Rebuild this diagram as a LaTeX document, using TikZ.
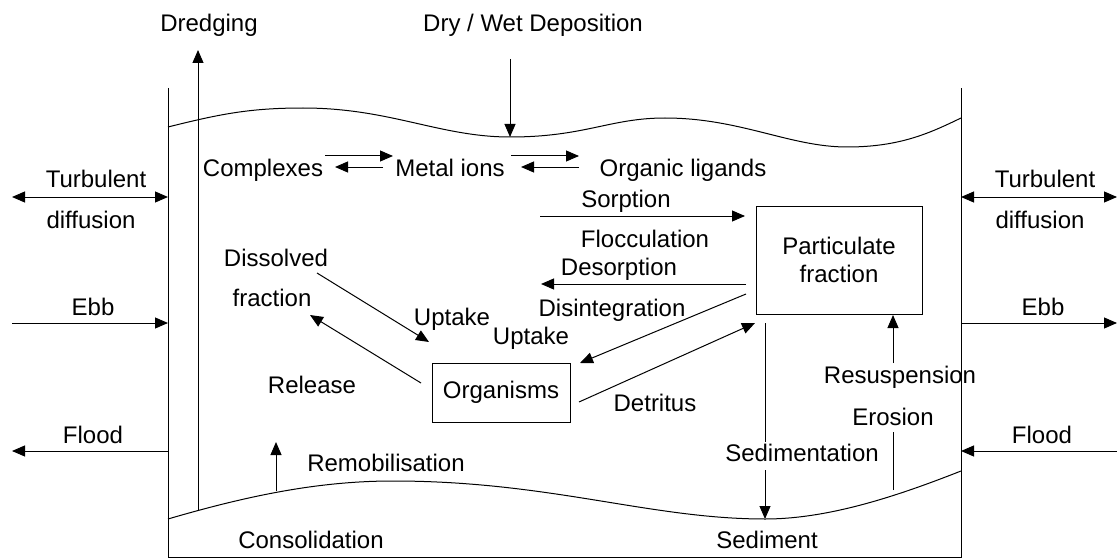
\documentclass[tikz,border=0pt]{standalone}
\usepackage{fontspec}
\setmainfont{Liberation Sans}
\usetikzlibrary{arrows.meta}
\begin{document}
\begin{tikzpicture}[x=1pt,y=-1pt,
  lbl/.style={font=\fontsize{24}{28}\selectfont, inner sep=0pt, text height=17.2pt, text depth=0pt},
  ln/.style={line width=1pt},
  arr/.style={ln, -{Triangle[length=13pt,width=11pt]}},
  darr/.style={ln, {Triangle[length=13pt,width=11pt]}-{Triangle[length=13pt,width=11pt]}},
  boxn/.style={draw, line width=1pt, font=\fontsize{24}{28}\selectfont, align=center, inner sep=0pt}]
\useasboundingbox (0,0) rectangle (1119,559);

% container
\draw[ln] (168,88) -- (168,557) -- (961,557) -- (961,88);
% water surface
\draw[ln] (168,127) .. controls (220,114) and (250,108) .. (303,108)
  .. controls (390,108) and (440,137) .. (510,137)
  .. controls (585,137) and (610,118) .. (665,118)
  .. controls (740,118) and (790,147) .. (847,147)
  .. controls (900,147) and (930,133) .. (961,118);
% sediment surface
\draw[ln] (168,519) .. controls (250,495) and (320,481) .. (393,481)
  .. controls (550,481) and (650,519) .. (765,519)
  .. controls (830,519) and (900,495) .. (961,471);

% text labels
\node[lbl] (dredg) at (209,23) {Dredging};
\node[lbl] (depo) at (533,23) {Dry / Wet Deposition};
\node[lbl] (compl) at (263,168) {Complexes};
\node[lbl] (metal) at (450,168) {Metal ions};
\node[lbl] (organ) at (683,168) {Organic ligands};
\node[lbl] (sorp) at (626,199) {Sorption};
\node[lbl] (flocc) at (645,239) {Flocculation};
\node[lbl] (desorp) at (619,267) {Desorption};
\node[lbl] (disint) at (612,308) {Disintegration};
\node[lbl] (dissol) at (276,258) {Dissolved};
\node[lbl] (fract) at (272,298) {fraction};
\node[lbl] (upt1) at (452,317) {Uptake};
\node[lbl] (upt2) at (531,336) {Uptake};
\node[lbl] (relea) at (312,385) {Release};
\node[lbl] (detri) at (655,403) {Detritus};
\node[lbl] (sedim) at (802,453) {Sedimentation};
\node[lbl] (erosi) at (893,417) {Erosion};
\node[lbl] (resus) at (900,375) {Resuspension};
\node[lbl] (remob) at (386,463) {Remobilisation};
\node[lbl] (conso) at (311,540) {Consolidation};
\node[lbl] (sedmt) at (767,540) {Sediment};
\node[lbl] (turbL) at (96,179) {Turbulent};
\node[lbl] (diffL) at (91,220) {diffusion};
\node[lbl] (ebbL) at (93,307) {Ebb};
\node[lbl] (floodL) at (93,435) {Flood};
\node[lbl] (turbR) at (1045,179) {Turbulent};
\node[lbl] (diffR) at (1040,220) {diffusion};
\node[lbl] (ebbR) at (1043,307) {Ebb};
\node[lbl] (floodR) at (1042,435) {Flood};

% boxes
\node[boxn, minimum width=166pt, minimum height=108pt] (part) at (839,260) {Particulate\\fraction};
\node[boxn, minimum width=138pt, minimum height=59pt] (orgs) at (501,392.5) {Organisms};

% coordinates for connector ends
\coordinate (dr0) at (198,510); \coordinate (dr1) at (198,50);
\coordinate (dp0) at (510,59);  \coordinate (dp1) at (510,137);
\coordinate (c1a) at (325,156); \coordinate (c1b) at (393,156);
\coordinate (c2a) at (383,167); \coordinate (c2b) at (335,167);
\coordinate (m1a) at (511,156); \coordinate (m1b) at (579,156);
\coordinate (m2a) at (579,167); \coordinate (m2b) at (521,167);
\coordinate (so0) at (540,216); \coordinate (so1) at (745,216);
\coordinate (de0) at (746,284); \coordinate (de1) at (541,284);
\coordinate (di0) at (746,294); \coordinate (di1) at (580,363);
\coordinate (dt0) at (579,402); \coordinate (dt1) at (755,323);
\coordinate (up0) at (317,273); \coordinate (up1) at (429,342);
\coordinate (re0) at (421,383); \coordinate (re1) at (310,315);
\coordinate (se0) at (765,323); \coordinate (se1) at (765,442);
\coordinate (se2) at (765,470); \coordinate (se3) at (765,519);
\coordinate (er0) at (893,490); \coordinate (er1) at (893,432);
\coordinate (rs0) at (893,363); \coordinate (rs1) at (893,315);
\coordinate (rm0) at (276,491); \coordinate (rm1) at (276,442);
\coordinate (tl0) at (12,197);  \coordinate (tl1) at (168,197);
\coordinate (el0) at (12,323);  \coordinate (el1) at (168,323);
\coordinate (fl0) at (168,451); \coordinate (fl1) at (12,451);
\coordinate (tr0) at (961,197); \coordinate (tr1) at (1117,197);
\coordinate (er2) at (961,323); \coordinate (er3) at (1117,323);
\coordinate (fr0) at (1117,451); \coordinate (fr1) at (961,451);

% connectors
\draw[arr] (dr0) -- (dr1);
\draw[arr] (dp0) -- (dp1);
\draw[arr] (c1a) -- (c1b);
\draw[arr] (c2a) -- (c2b);
\draw[arr] (m1a) -- (m1b);
\draw[arr] (m2a) -- (m2b);
\draw[arr] (so0) -- (so1);
\draw[arr] (de0) -- (de1);
\draw[arr] (di0) -- (di1);
\draw[arr] (dt0) -- (dt1);
\draw[arr] (up0) -- (up1);
\draw[arr] (re0) -- (re1);
\draw[ln] (se0) -- (se1);
\draw[arr] (se2) -- (se3);
\draw[ln] (er0) -- (er1);
\draw[arr] (rs0) -- (rs1);
\draw[arr] (rm0) -- (rm1);
\draw[darr] (tl0) -- (tl1);
\draw[arr] (el0) -- (el1);
\draw[arr] (fl0) -- (fl1);
\draw[darr] (tr0) -- (tr1);
\draw[arr] (er2) -- (er3);
\draw[arr] (fr0) -- (fr1);
\end{tikzpicture}
\end{document}
